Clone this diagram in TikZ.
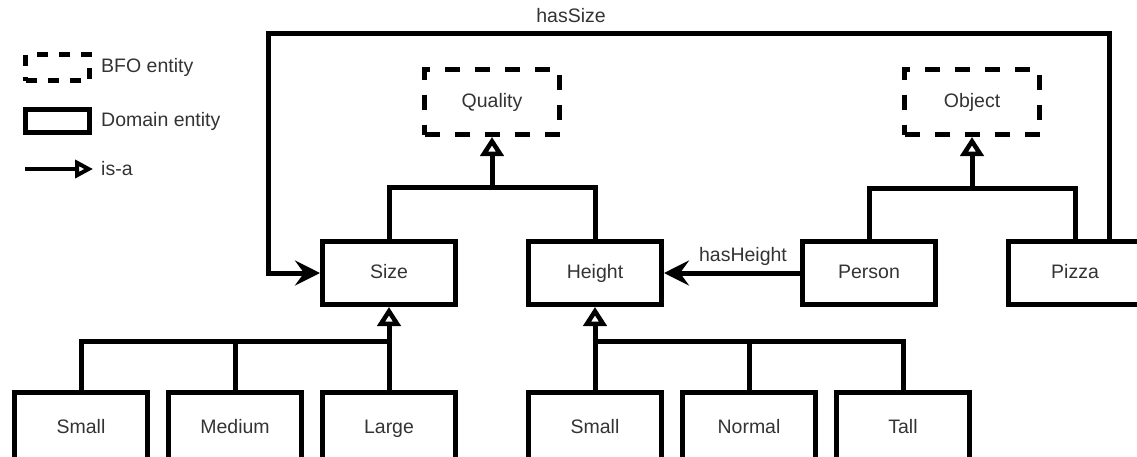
\documentclass[tikz,border=0pt]{standalone}
\usepackage{fontspec}
\setmainfont{Liberation Sans}
\usetikzlibrary{arrows.meta}
\definecolor{txt}{HTML}{333333}
\begin{document}
\begin{tikzpicture}[x=1pt,y=-1pt,
  every node/.style={font=\fontsize{19.5}{22}\selectfont, text=txt},
  ent/.style={draw, line width=5pt, minimum width=133pt, minimum height=63pt, inner sep=0pt, text height=14pt, text depth=4pt},
  leaf/.style={ent, minimum height=72pt},
  bfo/.style={ent, minimum width=135pt, minimum height=65pt, dash pattern=on 15pt off 15pt},
  line/.style={line width=5pt},
  isa/.style={line, -{Triangle[open, length=19pt, width=23pt, line width=4.5pt]}},
  isasmall/.style={line width=4pt, -{Triangle[open, length=18pt, width=18pt, line width=4pt]}},
  rel/.style={line, -{Stealth[length=25pt, width=25pt, inset=9pt]}},
  lbl/.style={inner sep=1pt}
]
\useasboundingbox (0,0) rectangle (1137,456);
% legend
\node[draw, line width=5pt, dash pattern=on 11pt off 11pt, minimum width=64pt, minimum height=26pt, inner sep=0pt] (lgbfo) at (57.5,67.5) {};
\node[anchor=west, lbl] (lgbfot) at (100,67) {BFO entity};
\node[draw, line width=5pt, minimum width=64pt, minimum height=23pt, inner sep=0pt] (lgdom) at (57.5,121) {};
\node[anchor=west, lbl] (lgdomt) at (100,121) {Domain entity};
\coordinate (lga) at (25,169);
\coordinate (lgb) at (93,169);
\node[anchor=west, lbl] (lgisa) at (100,169) {is-a};
\draw[isasmall] (lga) -- (lgb);
% BFO
\node[bfo] (quality) at (492,102) {Quality};
\node[bfo] (object) at (972,102) {Object};
% domain
\node[ent] (size) at (389,273) {Size};
\node[ent] (height) at (595,273) {Height};
\node[ent] (person) at (869,273) {Person};
\node[ent] (pizza) at (1075,273) {Pizza};
\node[leaf] (small1) at (81,428) {Small};
\node[leaf] (medium) at (235,428) {Medium};
\node[leaf] (large) at (389,428) {Large};
\node[leaf] (small2) at (595,428) {Small};
\node[leaf] (normal) at (749,428) {Normal};
\node[leaf] (tall) at (903,428) {Tall};
% is-a trees
\coordinate (jq) at (492,187);
\draw[line] (size.north) |- (jq) -| (height.north);
\draw[isa] (jq) -- (quality.south);
\coordinate (jo) at (972,188);
\draw[line] (person.north) |- (jo) -| (pizza.north);
\draw[isa] (jo) -- (object.south);
\coordinate (js) at (389,341);
\draw[line] (small1.north) |- (js);
\draw[line] (medium.north) -- (medium.north |- js);
\draw[isa] (large.north) -- (size.south);
\coordinate (jh) at (595,341);
\draw[line] (tall.north) |- (jh);
\draw[line] (normal.north) -- (normal.north |- jh);
\draw[isa] (small2.north) -- (height.south);
% relations
\coordinate (ps) at (1109,241);
\coordinate (c1) at (1109,33);
\coordinate (c2) at (268,33);
\coordinate (c3) at (268,273);
\draw[rel] (ps) -- (c1) -- (c2) -- (c3) -- (size.west);
\node[lbl] (hassize) at (571,16) {hasSize};
\draw[rel] (person.west) -- (height.east);
\node[lbl] (hasheight) at (743,256) {hasHeight};
\end{tikzpicture}
\end{document}
